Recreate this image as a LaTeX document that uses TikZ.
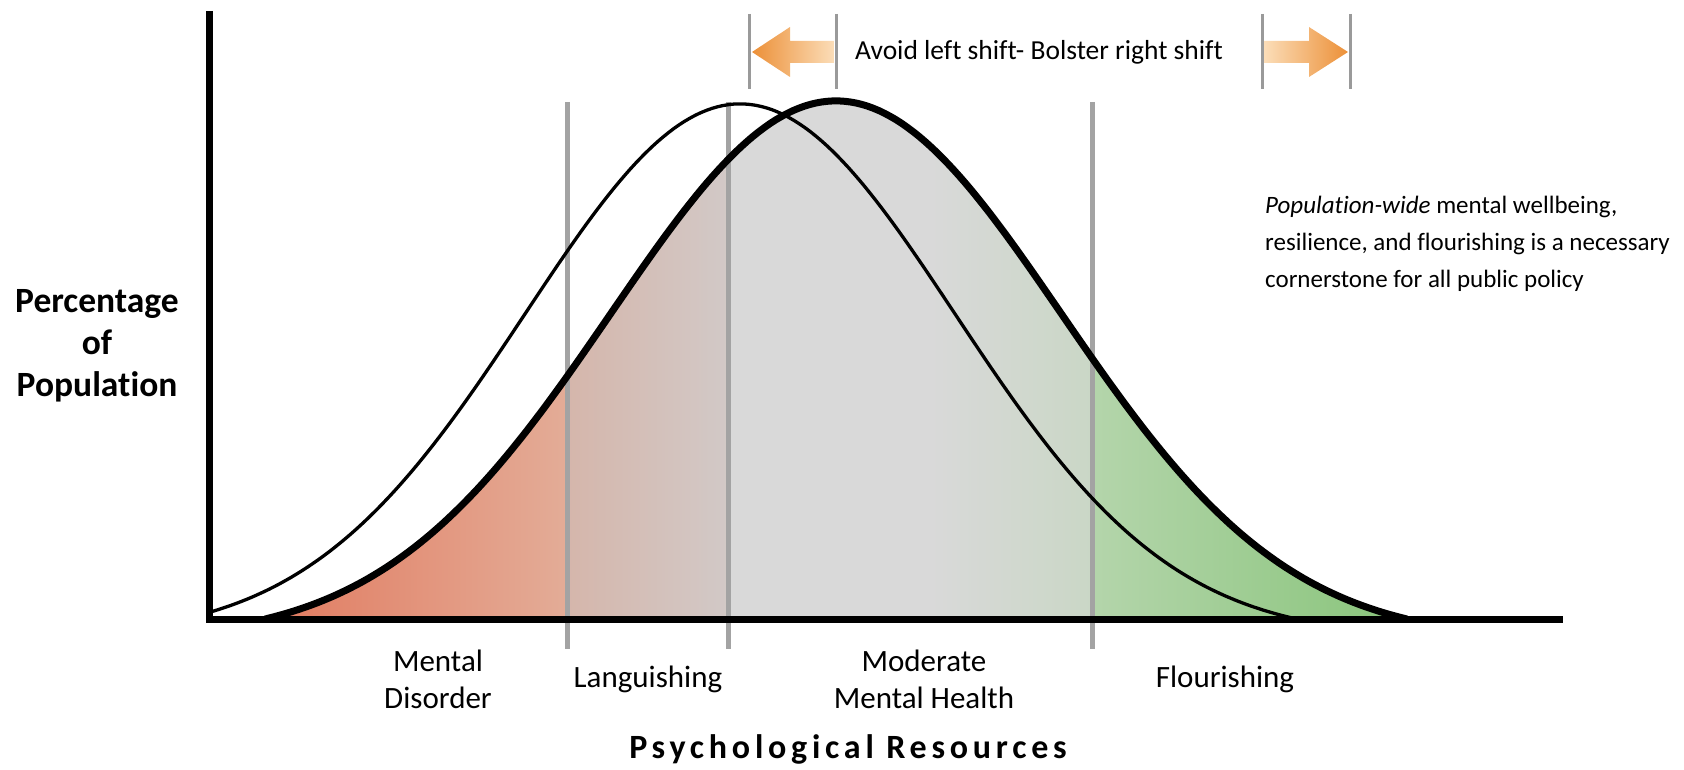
\documentclass[tikz,border=0pt]{standalone}
\usepackage{fontspec}
\setmainfont[Ligatures=CommonOff]{Carlito}
\newfontfamily\spacedfont[LetterSpace=14,Ligatures=CommonOff]{Carlito}
\definecolor{zonegray}{HTML}{A3A3A3}
\definecolor{tickgray}{HTML}{9A9A9A}
\definecolor{redleft}{HTML}{E27A5F}
\definecolor{redright}{HTML}{E3AC97}
\definecolor{pinkleft}{HTML}{D5B6AB}
\definecolor{pinkright}{HTML}{D2C9C7}
\definecolor{midgray}{HTML}{D9D9D9}
\definecolor{graygreen}{HTML}{CAD7C6}
\definecolor{greenleft}{HTML}{B4D5AB}
\definecolor{greenright}{HTML}{88C47A}
\definecolor{arrowdark}{HTML}{EC9038}
\definecolor{arrowlight}{HTML}{FBDDB8}
\begin{document}
\begin{tikzpicture}[x=1pt,y=-1pt,
	curvethick/.style={line width=7pt,line join=round},
	curvethin/.style={line width=3.3pt},
	zoneline/.style={line width=5pt,color=zonegray},
	tickline/.style={line width=3pt,color=tickgray},
	zonelabel/.style={font=\fontsize{31}{37}\selectfont,align=center,inner sep=0pt}]
	\useasboundingbox (0,0) rectangle (1684,770);
	\begin{scope}
		\clip plot[domain=265:1407,samples=200] (\x,{619-539.6*(exp(-0.5*((\x-836)/225)*((\x-836)/225))-0.04)}) -- cycle;
		\shade[left color=redleft,right color=redright] (260,90) rectangle (567,620);
		\shade[left color=pinkleft,right color=pinkright] (567,90) rectangle (728,620);
		\fill[midgray] (728,90) rectangle (930,620);
		\shade[left color=midgray,right color=graygreen] (930,90) rectangle (1092,620);
		\shade[left color=greenleft,right color=greenright] (1092,90) rectangle (1410,620);
	\end{scope}
	\draw[zoneline] (567,102) -- (567,649);
	\draw[zoneline] (728,102) -- (728,649);
	\draw[zoneline] (1092,102) -- (1092,649);
	\draw[curvethin] plot[domain=209:1297,samples=200] (\x,{619-533.7*(exp(-0.5*((\x-740)/215)*((\x-740)/215))-0.035)});
	\draw[curvethick] plot[domain=265:1407,samples=200] (\x,{619-539.6*(exp(-0.5*((\x-836)/225)*((\x-836)/225))-0.04)});
	\draw[line width=7pt] (209,11) -- (209,619) -- (1563,619);
	\draw[tickline] (749,14) -- (749,89);
	\draw[tickline] (836,14) -- (836,89);
	\draw[tickline] (1262,14) -- (1262,89);
	\draw[tickline] (1350,14) -- (1350,89);
	\shade[left color=arrowdark,right color=arrowlight] (752,52) -- (790,27) -- (790,41) -- (834,41) -- (834,63) -- (790,63) -- (790,77) -- cycle;
	\shade[left color=arrowlight,right color=arrowdark] (1348,52) -- (1309,27) -- (1309,41) -- (1264,41) -- (1264,63) -- (1309,63) -- (1309,77) -- cycle;
	\node[font=\fontsize{27.5}{33}\selectfont,inner sep=0pt] (shift) at (1039,52) {Avoid left shift- Bolster right shift};
	\node[font=\fontsize{25}{37}\selectfont,align=left,anchor=west,inner sep=0pt] (note) at (1265,244) {\textit{Population-wide} mental wellbeing,\\resilience, and flourishing is a necessary\\cornerstone for all public policy};
	\node[font=\bfseries\fontsize{35.5}{42}\selectfont,align=center,inner sep=0pt] (ylabel) at (97,346) {Percentage\\of\\Population};
	\node[zonelabel] (disorder) at (438,679) {Mental\\Disorder};
	\node[zonelabel] (languishing) at (648,679) {Languishing};
	\node[zonelabel] (moderate) at (924,679) {Moderate\\Mental Health};
	\node[zonelabel] (flourishing) at (1225,679) {Flourishing};
	\node[font=\spacedfont\bfseries\fontsize{34}{40}\selectfont,inner sep=0pt] (xlabel) at (848,749) {Psychological Resources};
\end{tikzpicture}
\end{document}
